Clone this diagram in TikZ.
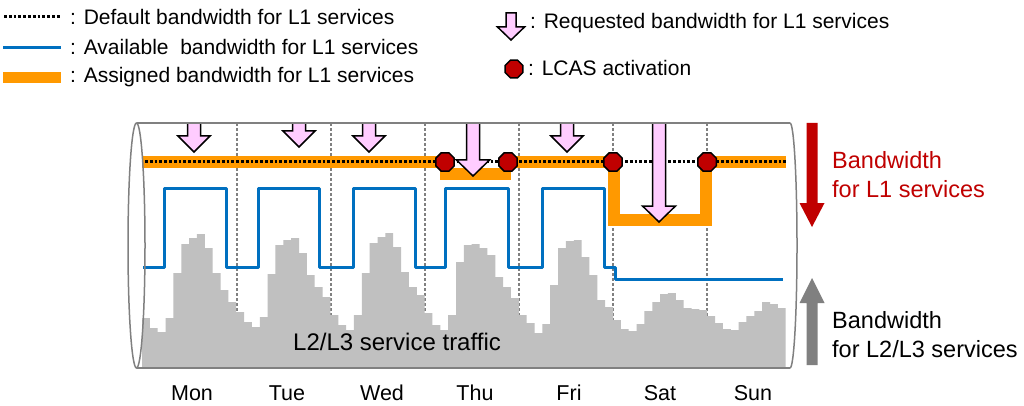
\documentclass[tikz,border=0pt]{standalone}
\usepackage{fontspec}
\setmainfont{Liberation Sans}
\usetikzlibrary{shapes.geometric}
\definecolor{orng}{RGB}{255,153,0}
\definecolor{pinkf}{RGB}{255,204,255}
\definecolor{blu}{RGB}{0,112,192}
\definecolor{dred}{RGB}{192,0,0}
\definecolor{histg}{RGB}{192,192,192}
\definecolor{frameg}{RGB}{128,128,128}
% x, top y, tip y, shaft half width, head half width, head length
\newcommand{\reqarrow}[6]{\filldraw[reqstyle] ({#1-#4},#2) -- ({#1-#4},{#3-#6}) -- ({#1-#5},{#3-#6}) -- (#1,#3) -- ({#1+#5},{#3-#6}) -- ({#1+#4},{#3-#6}) -- ({#1+#4},#2) -- cycle;}
\tikzset{
  reqstyle/.style={fill=pinkf, draw=black, line width=1.5pt, line join=miter},
  lcas/.style={regular polygon, regular polygon sides=8, minimum size=20pt, inner sep=0pt, fill=dred, draw=black, line width=1.5pt},
  dayline/.style={draw=frameg, line width=1.2pt, dash pattern=on 3pt off 2pt},
  defbw/.style={draw=black, line width=3pt, dash pattern=on 2.7pt off 2.1pt},
  availbw/.style={draw=blu, line width=3pt, line join=round},
  assignbw/.style={draw=orng, line width=12pt, line join=miter},
  framel/.style={draw=frameg, line width=1.5pt},
  legtxt/.style={anchor=base west, inner sep=0pt, font=\fontsize{21}{25}\selectfont},
  daytxt/.style={anchor=base, inner sep=0pt, font=\fontsize{21.5}{25}\selectfont},
  sidetxt/.style={anchor=base west, inner sep=0pt, font=\fontsize{23.5}{29}\selectfont},
}
\begin{document}
\begin{tikzpicture}[x=1pt, y=-1pt]
\useasboundingbox (0,0) rectangle (1024,406);
\fill[white] (0,0) rectangle (1024,406);

% ---------- legend ----------
\draw[defbw] (4,17) -- (60,17);
\node[legtxt] (l1) at (70,25) {: Default bandwidth for L1 services};
\draw[availbw] (3,48) -- (61,48);
\node[legtxt] (l2) at (70,55) {: Available\ \ bandwidth for L1 services};
\fill[orng] (3,72) rectangle (61,83);
\node[legtxt] (l3) at (70,83) {: Assigned bandwidth for L1 services};
\reqarrow{511}{13}{40}{5}{13.5}{13}
\node[legtxt] (l4) at (530,29) {: Requested bandwidth for L1 services};
\node[lcas, minimum size=19pt] (lo) at (514,69) {};
\node[legtxt] (l5) at (528,76) {: LCAS activation};

% ---------- day separators ----------
\foreach \x in {237,331,425,519,613,707} \draw[dayline] (\x,123) -- (\x,367);

% ---------- L2/L3 traffic histogram ----------
\fill[histg] (142,367)
  \foreach \h [count=\i from 0] in {318,328,332,318,273,244,238,234,248,273,290,302,
                                     312,322,327,317,274,245,240,238,253,275,287,297,
                                     315,325,330,315,273,243,237,233,247,272,287,295,
                                     313,325,330,315,262,245,244,248,255,277,287,298,
                                     315,323,333,324,285,248,241,240,257,275,300,307,
                                     320,329,331,324,311,302,294,293,300,308,309,310,
                                     316,323,329,330,322,316,311,302,304,308}
  { -- ({142+7.85*\i},\h) -- ({142+7.85*(\i+1)},\h) } -- (785.7,367) -- cycle;

% ---------- available bandwidth ----------
\draw[availbw] (143,267) -- (164,267) -- (164,188) -- (226,188) -- (226,267)
  -- (258,267) -- (258,188) -- (319,188) -- (319,267)
  -- (353,267) -- (353,188) -- (415,188) -- (415,267)
  -- (445,267) -- (445,188) -- (508,188) -- (508,267)
  -- (542,267) -- (542,188) -- (604,188) -- (604,267)
  -- (615,267) -- (615,279) -- (783,279);

% ---------- assigned bandwidth ----------
\draw[assignbw] (142,162) -- (445,162);
\fill[orng] (440,168) rectangle (511,180);
\draw[assignbw] (508,162) -- (614,162);
\draw[assignbw] (614,160) -- (614,220) -- (706,220) -- (706,160);
\draw[assignbw] (706,162) -- (786,162);

% ---------- default bandwidth ----------
\draw[defbw] (145,162) -- (786,162);

% ---------- requested bandwidth ----------
\reqarrow{194}{123}{152}{6.5}{16}{16}
\reqarrow{299}{123}{147}{6.5}{16}{16}
\reqarrow{369}{123}{152}{6.5}{16}{16}
\reqarrow{473}{123}{176}{6.5}{16.5}{16}
\reqarrow{567}{123}{152}{6.5}{16}{16}
\reqarrow{659}{123}{222}{6.5}{16.5}{16}

% ---------- LCAS activation ----------
\node[lcas] (o1) at (445,162) {};
\node[lcas] (o2) at (508,162) {};
\node[lcas] (o3) at (613,162) {};
\node[lcas] (o4) at (707,162) {};

% ---------- frame (cylinder) ----------
\draw[framel] (136.5,123) -- (790,123);
\draw[framel] (136.5,368) -- (790,368);
\draw[framel] (136.5,245.5) ellipse [x radius=8.5, y radius=122.5];
\draw[framel] (790,123) arc [start angle=-90, end angle=90, x radius=7, y radius=122.5];

% ---------- texts inside ----------
\node[anchor=base west, inner sep=0pt, font=\fontsize{24}{28}\selectfont] (traffic) at (293,350) {L2/L3 service traffic};
\node[daytxt] (mon) at (192,400) {Mon};
\node[daytxt] (tue) at (287,400) {Tue};
\node[daytxt] (wed) at (382,400) {Wed};
\node[daytxt] (thu) at (475,400) {Thu};
\node[daytxt] (fri) at (569,400) {Fri};
\node[daytxt] (sat) at (660,400) {Sat};
\node[daytxt] (sun) at (753,400) {Sun};

% ---------- side arrows ----------
\fill[dred] (806.5,123) -- (806.5,203) -- (799.5,203) -- (812,227) -- (824.5,203) -- (817.5,203) -- (817.5,123) -- cycle;
\fill[frameg] (806.5,365) -- (806.5,303) -- (799.5,303) -- (812,278) -- (824.5,303) -- (817.5,303) -- (817.5,365) -- cycle;
\node[sidetxt, text=dred] (bw1a) at (832,168) {Bandwidth};
\node[sidetxt, text=dred] (bw1b) at (832,197) {for L1 services};
\node[sidetxt] (bw2a) at (832,328) {Bandwidth};
\node[sidetxt] (bw2b) at (832,357) {for L2/L3 services};
\end{tikzpicture}
\end{document}
